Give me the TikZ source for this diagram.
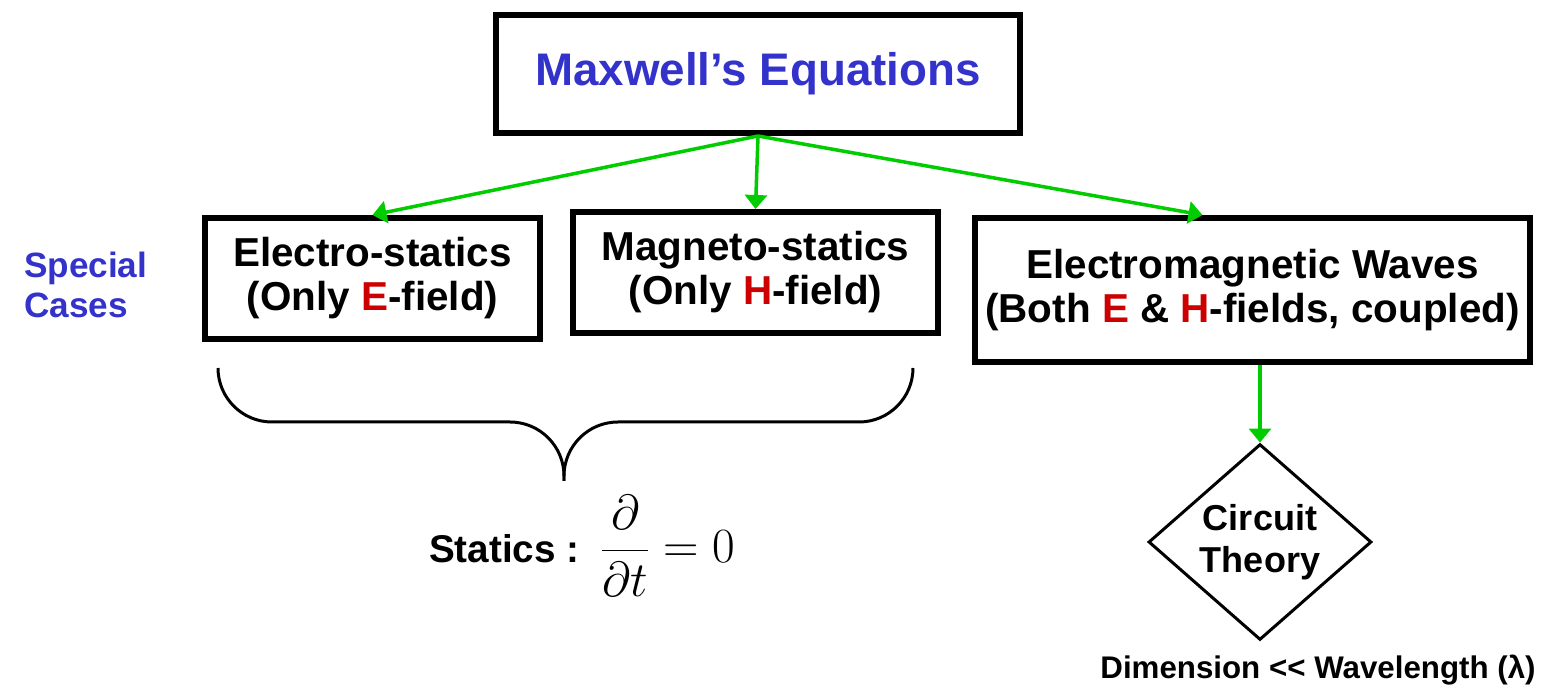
\RequirePackage{fix-cm}
\documentclass[tikz,border=0pt]{standalone}
\usepackage{fontspec}
\setmainfont{Liberation Sans}
\usetikzlibrary{arrows.meta,calc,shapes.geometric}
\definecolor{EqBlue}{RGB}{51,51,204}
\definecolor{FieldRed}{RGB}{204,0,0}
\definecolor{FlowGreen}{RGB}{0,204,0}
\newcommand{\fieldE}{\textcolor{FieldRed}{E}}
\newcommand{\fieldH}{\textcolor{FieldRed}{H}}

\begin{document}
\begin{tikzpicture}[x=0.2mm,y=0.2mm,>={Triangle[length=0.28cm,width=0.44cm]}]
        \tikzset{box/.style={draw,line width=3.4pt,align=center,inner sep=0pt,font=\fontsize{23}{25}\selectfont\bfseries},
          flow/.style={->,FlowGreen,line width=2pt}}
        \useasboundingbox (0,0) rectangle (1547,688);
        \node[box,minimum width=10.48cm,minimum height=2.36cm,text=EqBlue,font=\fontsize{26}{30}\selectfont\bfseries] (max) at (758,614) {Maxwell's Equations};
        \node[box,minimum width=6.7cm,minimum height=2.42cm] (el) at (372.5,409.5) {\textbf{E}lectro-statics\\(Only \fieldE-field)};
        \node[box,minimum width=7.3cm,minimum height=2.42cm] (mag) at (755.5,415.5) {Magneto-statics\\(Only \fieldH-field)};
        \node[box,minimum width=11.1cm,minimum height=2.88cm] (em) at (1252.5,398) {Electromagnetic Waves\\(Both \fieldE{} \& \fieldH-fields, coupled)};
        \node[draw,diamond,line width=1.7pt,minimum width=4.46cm,minimum height=3.78cm,inner sep=0pt,align=center,font=\fontsize{20.5}{24}\selectfont\bfseries] (ct) at (1260,146) {Circuit\\Theory};
        \node[anchor=west,align=left,text=EqBlue,font=\fontsize{20}{23}\selectfont\bfseries] (sc) at (18,403) {Special\\Cases};
        \node[anchor=base west,font=\fontsize{22}{26}\selectfont\bfseries] (st) at (423,125) {Statics :\, \fontsize{28}{33}\selectfont$\displaystyle\frac{\partial}{\partial t}=0$};
        \node[font=\fontsize{17.8}{20}\selectfont\bfseries] (dim) at (1318,18) {Dimension <\kern0pt< Wavelength (λ)};
        % brace under the statics boxes
        \draw[line width=1.7pt] (218,320) arc[start angle=180,end angle=270,radius=54] -- (510,266) arc[start angle=90,end angle=0,radius=54] -- (564,207);
        \draw[line width=1.7pt] (913,320) arc[start angle=0,end angle=-90,radius=54] -- (618,266) arc[start angle=90,end angle=180,radius=54] -- (564,207);
        \foreach \y in {el,mag}{\draw[flow] (max.south) -- (\y.north);}
        \draw[flow] (max.south) -- ($(em.north)+(-50,0)$);
        \draw[flow] (em.south -| ct.north) -- (ct.north);
      \end{tikzpicture}
\end{document}
